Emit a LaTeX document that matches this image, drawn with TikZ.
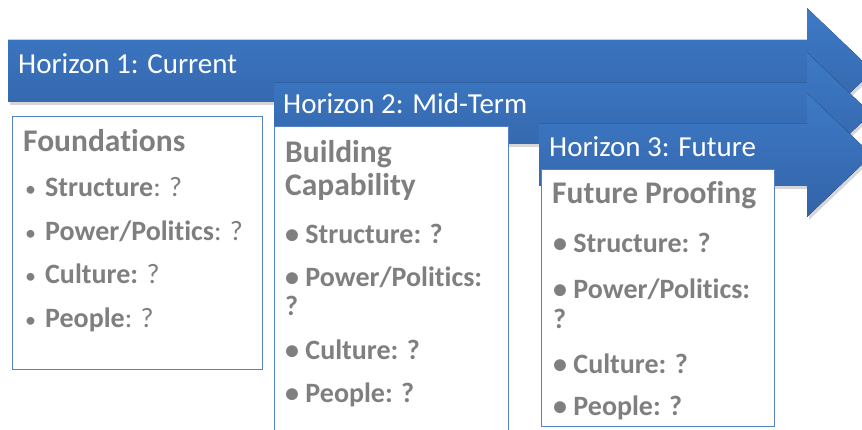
\documentclass[tikz,border=0pt]{standalone}
\usepackage{fontspec}
\setmainfont[Ligatures=NoCommon]{Carlito}
\usetikzlibrary{calc}
\definecolor{arrowtop}{RGB}{61,122,198}
\definecolor{arrowbot}{RGB}{51,99,168}
\definecolor{boxline}{RGB}{84,130,196}
\definecolor{txtgray}{RGB}{127,127,127}
\tikzset{
  horizonarrow/.style={top color=arrowtop, bottom color=arrowbot, draw=none},
  arrowshadow/.style={fill=black, opacity=0.16},
  pillarbox/.style={draw=boxline, line width=1.3pt, fill=white},
  horizonlabel/.style={anchor=base west, text=white, inner sep=0pt,
    font=\fontsize{29}{33}\selectfont},
  pillartitle/.style={anchor=base west, text=txtgray, inner sep=0pt,
    font=\bfseries\fontsize{31.5}{36}\selectfont},
  pillaritem/.style={anchor=base west, text=txtgray, inner sep=0pt,
    font=\fontsize{28}{32}\selectfont},
  boldpillaritem/.style={pillaritem, font=\bfseries\fontsize{28}{32}\selectfont},
}
% small bullet used in the first column
\newcommand{\smallbul}{{\fontsize{22}{26}\selectfont•}\hspace{9pt}}
% one horizon arrow: #1 start x, #2 body top, #3 body bottom, #4 head half-height
\newcommand{\horizonpath}[4]{%
  (#1,#2) -- (807,#2) -- (807,{(#2+#3)/2-#4}) -- ({807+#4+3},{(#2+#3)/2})
  -- (807,{(#2+#3)/2+#4}) -- (807,#3) -- (#1,#3) -- cycle}
\begin{document}
\begin{tikzpicture}[x=1pt,y=-1pt]
\useasboundingbox (0,0) rectangle (862,430);
\begin{scope}
\clip (0,0) rectangle (862,430);

% Horizon 1
\fill[arrowshadow] [shift={(2,3)}] \horizonpath{8}{40}{102}{63};
\fill[horizonarrow] \horizonpath{8}{40}{102}{63};
\node[horizonlabel] (h1) at (18,74) {Horizon 1: Current};

\node[pillarbox, minimum width=250pt, minimum height=253pt, anchor=north west] (b1) at (12,116) {};
\node[pillartitle] (b1t) at (23,152) {Foundations};
\node[pillaritem] (b1a) at (25,197) {\smallbul\textbf{Structure}: ?};
\node[pillaritem] (b1b) at (25,241) {\smallbul\textbf{Power/Politics}: ?};
\node[pillaritem] (b1c) at (25,284) {\smallbul\textbf{Culture:} ?};
\node[pillaritem] (b1d) at (25,327) {\smallbul\textbf{People}: ?};

% Horizon 2
\fill[arrowshadow] [shift={(2,3)}] \horizonpath{274}{83}{144}{61};
\fill[horizonarrow] \horizonpath{274}{83}{144}{61};
\node[horizonlabel] (h2) at (283,114) {Horizon 2: Mid-Term};

\node[pillarbox, minimum width=234pt, minimum height=320pt, anchor=north west] (b2) at (274,126) {};
\node[pillartitle] (b2t) at (285,163) {Building};
\node[pillartitle] (b2u) at (285,196) {Capability};
\node[boldpillaritem] (b2a) at (285,244) {• Structure: ?};
\node[boldpillaritem] (b2b) at (285,287) {• Power/Politics:};
\node[boldpillaritem] (b2q) at (285,316) {?};
\node[boldpillaritem] (b2c) at (285,359) {• Culture: ?};
\node[boldpillaritem] (b2d) at (285,402) {• People: ?};

% Horizon 3
\fill[arrowshadow] [shift={(2,3)}] \horizonpath{539}{124}{186}{62};
\fill[horizonarrow] \horizonpath{539}{124}{186}{62};
\node[horizonlabel] (h3) at (549,157) {Horizon 3: Future};

\node[pillarbox, minimum width=233pt, minimum height=257pt, anchor=north west] (b3) at (541,169) {};
\node[pillartitle] (b3t) at (552,204) {Future Proofing};
\node[boldpillaritem] (b3a) at (553,253) {• Structure: ?};
\node[boldpillaritem] (b3b) at (553,299) {• Power/Politics:};
\node[boldpillaritem] (b3q) at (553,329) {?};
\node[boldpillaritem] (b3c) at (553,373) {• Culture: ?};
\node[boldpillaritem] (b3d) at (553,415) {• People: ?};
\end{scope}
\end{tikzpicture}
\end{document}
